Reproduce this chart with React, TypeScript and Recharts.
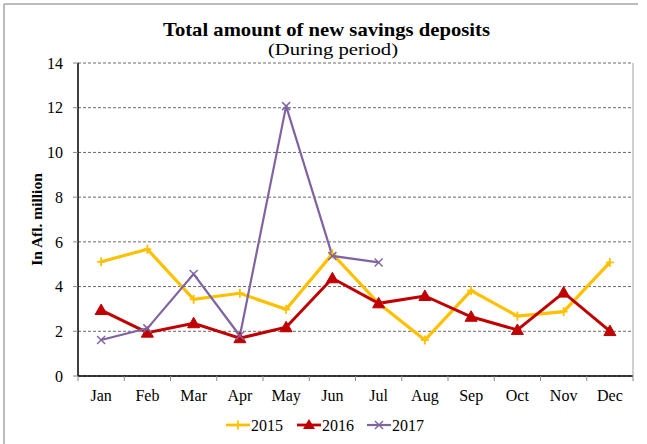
import React from "react";
import { LineChart, Line, XAxis, YAxis, CartesianGrid } from "recharts";

const months = ["Jan", "Feb", "Mar", "Apr", "May", "Jun", "Jul", "Aug", "Sep", "Oct", "Nov", "Dec"];
const s2015 = [5.11, 5.67, 3.43, 3.7, 2.98, 5.46, 3.25, 1.61, 3.82, 2.68, 2.88, 5.08];
const s2016 = [2.95, 1.94, 2.36, 1.69, 2.18, 4.37, 3.25, 3.58, 2.65, 2.06, 3.73, 2.01];
const s2017 = [1.61, 2.13, 4.56, 1.8, 12.07, 5.37, 5.08, null, null, null, null, null];
const yTicks = [0, 2, 4, 6, 8, 10, 12, 14];
const seriesNames = ["2015", "2016", "2017"];

const data = months.map((m, i) => ({ month: m, y2015: s2015[i], y2016: s2016[i], y2017: s2017[i] }));

const W = 647;
const H = 444;
const M = { top: 63, right: 14, bottom: 0, left: 0 };
const YW = 78;
const XH = 68;
const FONT = "'Liberation Serif', 'Times New Roman', Times, serif";
const C15 = "#FFC000";
const C16 = "#C00000";
const C17 = "#8064A2";
const plotLeft = M.left + YW;
const plotRight = W - M.right;
const plotTop = M.top;
const plotBottom = H - M.bottom - XH;

const PlusDot = (props: any) => {
  const { cx, cy } = props;
  if (cx == null || cy == null || props.value == null) return null;
  return (
    <g>
      <line x1={cx - 4} y1={cy} x2={cx + 4} y2={cy} stroke={C15} strokeWidth={1.8} />
      <line x1={cx} y1={cy - 4.5} x2={cx} y2={cy + 4.5} stroke={C15} strokeWidth={1.8} />
    </g>
  );
};
const TriDot = (props: any) => {
  const { cx, cy } = props;
  if (cx == null || cy == null || props.value == null) return null;
  return <path d={`M${cx},${cy - 6} L${cx + 6},${cy + 4.5} L${cx - 6},${cy + 4.5} Z`} fill={C16} stroke={C16} strokeWidth={1} />;
};
const XDot = (props: any) => {
  const { cx, cy } = props;
  if (cx == null || cy == null || props.value == null) return null;
  return (
    <g>
      <line x1={cx - 4} y1={cy - 4} x2={cx + 4} y2={cy + 4} stroke={C17} strokeWidth={1.5} />
      <line x1={cx - 4} y1={cy + 4} x2={cx + 4} y2={cy - 4} stroke={C17} strokeWidth={1.5} />
    </g>
  );
};

const XTick = (props: any) => {
  const { x, y, payload, index } = props;
  const half = (plotRight - plotLeft) / months.length / 2;
  const y0 = y - 14;
  return (
    <g>
      <line x1={x - half} y1={y0} x2={x - half} y2={y0 + 5} stroke="#888" strokeWidth={1} />
      {index === months.length - 1 && <line x1={x + half} y1={y0} x2={x + half} y2={y0 + 5} stroke="#888" strokeWidth={1} />}
      <text x={x} y={y} dy="0.71em" textAnchor="middle" fontFamily={FONT} fontSize={16} fill="#000" style={{ fontFamily: FONT }}>
        {payload.value}
      </text>
    </g>
  );
};

const YTick = (props: any) => {
  const { x, y, payload } = props;
  return (
    <text x={x} y={y} dy="0.355em" textAnchor="end" fontFamily={FONT} fontSize={16} fill="#000" style={{ fontFamily: FONT }}>
      {payload.value}
    </text>
  );
};

const legendItems = [
  { name: seriesNames[0], color: C15, x: 226, w: 2.8, mark: "plus" },
  { name: seriesNames[1], color: C16, x: 297, w: 2.8, mark: "tri" },
  { name: seriesNames[2], color: C17, x: 367, w: 2.2, mark: "x" },
];

export default function App() {
  return (
    <div style={{ position: "absolute", left: 0, top: 0, width: W, height: H, background: "#fff", fontFamily: FONT }}>
      <LineChart width={W} height={H} data={data} margin={M} style={{ fontFamily: FONT }}>
        <CartesianGrid vertical={false} stroke="#444" strokeDasharray="3 2" strokeWidth={0.8} />
        <XAxis
          dataKey="month"
          scale="band"
          height={XH}
          tickLine={false}
          tickSize={5}
          tickMargin={9}
          axisLine={{ stroke: "#000", strokeWidth: 1.5 }}
          tick={<XTick />}
          interval={0}
        />
        <YAxis
          width={YW}
          domain={[0, 14]}
          ticks={yTicks}
          interval={0}
          tickSize={5}
          tickMargin={10}
          tickLine={{ stroke: "#888" }}
          axisLine={{ stroke: "#000", strokeWidth: 1.5 }}
          tick={<YTick />}
        />
        <Line dataKey="y2015" stroke={C15} strokeWidth={3.2} dot={<PlusDot />} isAnimationActive={false} />
        <Line dataKey="y2016" stroke={C16} strokeWidth={3} dot={<TriDot />} isAnimationActive={false} />
        <Line dataKey="y2017" stroke={C17} strokeWidth={2.2} dot={<XDot />} isAnimationActive={false} connectNulls={false} />
      </LineChart>
      <svg width={W} height={H} style={{ position: "absolute", left: 0, top: 0, pointerEvents: "none", fontFamily: FONT }}>
        <line x1={4} y1={4} x2={638} y2={4} stroke="#A6A6A6" strokeWidth={1.5} />
        <line x1={4} y1={4} x2={4} y2={H} stroke="#A6A6A6" strokeWidth={1.5} />
        <line x1={plotRight} y1={plotTop} x2={plotRight} y2={plotBottom} stroke="#A0A0A0" strokeWidth={1} />
        <text x={326.5} y={36} textAnchor="middle" fontFamily={FONT} fontSize={19} fontWeight="bold" fill="#000" textLength={327} lengthAdjust="spacingAndGlyphs">
          Total amount of new savings deposits
        </text>
        <text x={333} y={55} textAnchor="middle" fontFamily={FONT} fontSize={16.5} fill="#000" textLength={130} lengthAdjust="spacingAndGlyphs">
          (During period)
        </text>
        <text
          x={0}
          y={0}
          transform={`translate(42, ${(plotTop + plotBottom) / 2}) rotate(-90)`}
          textAnchor="middle"
          fontFamily={FONT}
          fontSize={15.5}
          fontWeight="bold"
          fill="#000"
        >
          In Afl. million
        </text>
        {legendItems.map((it) => (
          <g key={it.name}>
            <line x1={it.x} y1={425} x2={it.x + 24} y2={425} stroke={it.color} strokeWidth={it.w} />
            {it.mark === "plus" && (
              <g>
                <line x1={it.x + 8} y1={425} x2={it.x + 16} y2={425} stroke={it.color} strokeWidth={1.8} />
                <line x1={it.x + 12} y1={420.5} x2={it.x + 12} y2={429.5} stroke={it.color} strokeWidth={1.8} />
              </g>
            )}
            {it.mark === "tri" && (
              <path d={`M${it.x + 12},${419} L${it.x + 18},${429} L${it.x + 6},${429} Z`} fill={it.color} />
            )}
            {it.mark === "x" && (
              <g>
                <line x1={it.x + 8} y1={421} x2={it.x + 16} y2={429} stroke={it.color} strokeWidth={1.5} />
                <line x1={it.x + 8} y1={429} x2={it.x + 16} y2={421} stroke={it.color} strokeWidth={1.5} />
              </g>
            )}
            <text x={it.x + 25} y={431} fontFamily={FONT} fontSize={16} fill="#000">
              {it.name}
            </text>
          </g>
        ))}
      </svg>
    </div>
  );
}
